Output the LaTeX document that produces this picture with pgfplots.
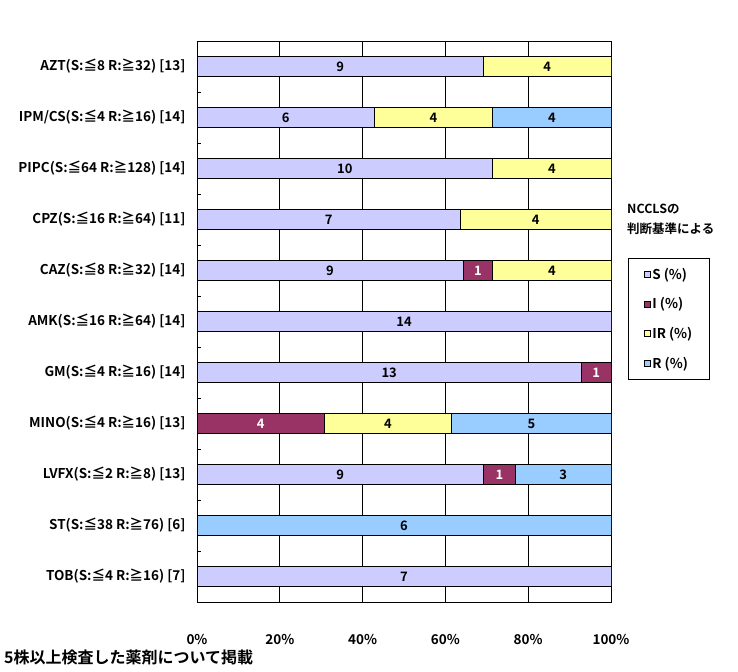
\documentclass[border=0pt]{standalone}
\usepackage{fontspec}
\setmainfont{Noto Sans CJK JP}[BoldFont=* Bold]
\usepackage{pgfplots}
\usepackage{pgfplotstable}
\pgfplotsset{compat=1.18}
\definecolor{cS}{HTML}{CCCCFF}
\definecolor{cI}{HTML}{993366}
\definecolor{cIR}{HTML}{FFFF99}
\definecolor{cR}{HTML}{99CCFF}
\pgfplotstableread{
y S I IR R
0 69.231 0 30.769 0
1 42.857 0 28.571 28.571
2 71.429 0 28.571 0
3 63.636 0 36.364 0
4 64.286 7.143 28.571 0
5 100 0 0 0
6 92.857 7.143 0 0
7 0 30.769 30.769 38.462
8 69.231 7.692 0 23.077
9 0 0 0 100
10 100 0 0 0
}\data
\newcommand{\lf}{\bfseries\fontsize{13.5bp}{15bp}\selectfont}
\newcommand{\gf}{\bfseries\fontsize{13bp}{15bp}\selectfont}
\pgfplotsset{common/.style={
  at={(197bp,70bp)}, anchor=south west,
  scale only axis, width=414bp, height=561bp,
  xmin=0, xmax=100, ymin=-0.5, ymax=10.5, y dir=reverse}}
\begin{document}
\begin{tikzpicture}
\useasboundingbox (0bp,0bp) rectangle (738bp,672bp);
\begin{axis}[
  common,
  xbar stacked, bar width=20bp,
  xtick={0,20,...,100}, xticklabels={0\%,20\%,40\%,60\%,80\%,100\%},
  ytick={0,...,10},
  yticklabels={AZT(S:≦8 R:≧32) [13],IPM/CS(S:≦4 R:≧16) [14],PIPC(S:≦64 R:≧128) [14],CPZ(S:≦16 R:≧64) [11],CAZ(S:≦8 R:≧32) [14],AMK(S:≦16 R:≧64) [14],GM(S:≦4 R:≧16) [14],MINO(S:≦4 R:≧16) [13],LVFX(S:≦2 R:≧8) [13],ST(S:≦38 R:≧76) [6],TOB(S:≦4 R:≧16) [7]},
  minor ytick={0.5,1.5,...,9.5},
  major tick length=0pt, minor tick length=4bp,
  ytick pos=left, xtick pos=bottom, tick align=inside,
  tick style={black, line width=0.8pt},
  xmajorgrids, grid style={black, line width=0.8pt},
  axis line style={line width=0.8pt},
  ticklabel style={font=\lf},
  yticklabel style={xshift=-8bp},
  xticklabel style={yshift=-29bp},
  every axis plot/.append style={draw=black, line width=0.8pt},
  legend style={at={(1.0411,0.6132)}, anchor=north west, draw=black, line width=0.8pt,
    font=\lf, row sep=14bp, inner xsep=16bp, inner ysep=8bp,
    nodes={inner sep=1.5bp}},
  legend cell align=left,
  legend image code/.code={\draw[#1, draw=black, line width=0.5pt] (0bp,-3bp) rectangle (6bp,3bp);},
]
\addplot[fill=cS] table[x=S, y=y] {\data};
\addplot[fill=cI] table[x=I, y=y] {\data};
\addplot[fill=cIR] table[x=IR, y=y] {\data};
\addplot[fill=cR] table[x=R, y=y] {\data};
\legend{S (\%)\hspace{8bp},I (\%),IR (\%),R (\%)}
\end{axis}
\begin{axis}[common, hide axis, point meta=explicit symbolic,
  nodes near coords, nodes near coords align=center,
  every node near coord/.append style={font=\gf, inner sep=0pt}]
\addplot[only marks, mark=none] coordinates {
(34.615,0) [9] (84.615,0) [4]
(21.429,1) [6] (57.143,1) [4] (85.714,1) [4]
(35.714,2) [10] (85.714,2) [4]
(31.818,3) [7] (81.818,3) [4]
(32.143,4) [9] (85.714,4) [4]
(50,5) [14]
(46.429,6) [13]
(46.154,7) [4] (80.769,7) [5]
(34.615,8) [9] (88.462,8) [3]
(50,9) [6]
(50,10) [7]
};
\addplot[only marks, mark=none, every node near coord/.append style={text=white}] coordinates {
(67.857,4) [1]
(96.429,6) [1]
(15.385,7) [4]
(73.077,8) [1]
};
\end{axis}
\node[anchor=west, inner sep=0pt, font=\bfseries\fontsize{12.5bp}{14bp}\selectfont] at (627bp,463bp) {NCCLSの};
\node[anchor=west, inner sep=0pt, font=\bfseries\fontsize{12.5bp}{14bp}\selectfont] at (627bp,443bp) {判断基準による};
\node[anchor=west, inner sep=0pt, font=\bfseries\fontsize{16bp}{18bp}\selectfont] at (4bp,15bp) {5株以上検査した薬剤について掲載};
\end{tikzpicture}
\end{document}
